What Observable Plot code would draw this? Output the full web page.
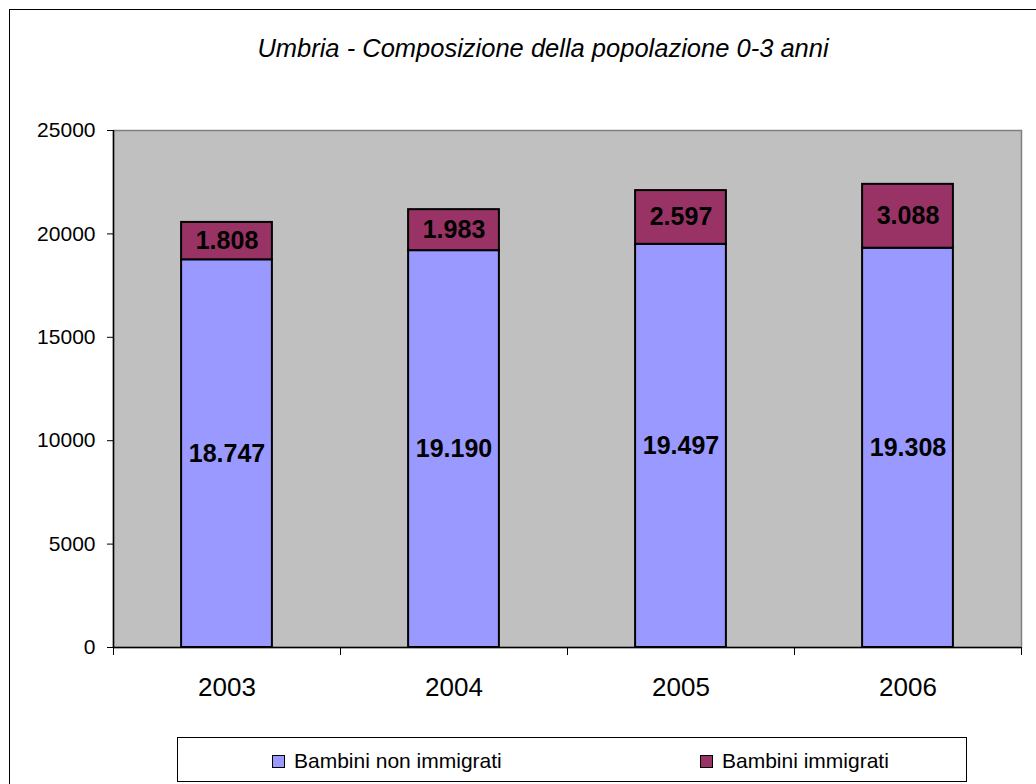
<!DOCTYPE html>
<html>
<head>
<meta charset="utf-8">
<script src="https://cdn.jsdelivr.net/npm/d3@7"></script>
<script src="https://cdn.jsdelivr.net/npm/@observablehq/plot@0.6"></script>
<style>
  html, body { margin: 0; padding: 0; background: #fff; }
  #wrap { position: relative; width: 1036px; height: 784px; overflow: hidden; font-family: Arial, "Liberation Sans", sans-serif; }
  #border { position: absolute; left: 9px; top: 9px; width: 1040px; height: 800px; border: 1px solid #000; box-sizing: border-box; }
  #chart { position: absolute; left: 0; top: 0; }
  #title { position: absolute; left: 0; top: 34px; width: 1086px; text-align: center; font-style: italic; font-size: 25.5px; color: #000; }
  #legend { position: absolute; left: 177px; top: 737px; width: 790px; height: 45px; border: 1px solid #000; box-sizing: border-box; background: #fff; }
  .item { position: absolute; top: 11px; font-size: 21px; line-height: 24px; white-space: nowrap; }
  .sw { display: inline-block; width: 11px; height: 11px; border: 1px solid #000; margin-right: 9px; vertical-align: 0px; }
</style>
</head>
<body>
<div id="wrap">
  <div id="border"></div>
  <div id="chart"></div>
  <div id="title"></div>
  <div id="legend"></div>
</div>
<script>
const titleText = "Umbria - Composizione della popolazione 0-3 anni";
const years = [2003, 2004, 2005, 2006];
const seriesNames = ["Bambini non immigrati", "Bambini immigrati"];
const nonImmigrati = [18747, 19190, 19497, 19308];
const immigrati = [1808, 1983, 2597, 3088];
const yTicks = [0, 5000, 10000, 15000, 20000, 25000];
const colors = ["#9999FF", "#993366"];

const fmt = d3.formatLocale({decimal: ",", thousands: ".", grouping: [3]}).format(",d");

const seriesValues = [nonImmigrati, immigrati];
const rows = [];
years.forEach((yr, i) => {
  let base = 0;
  seriesValues.forEach((vals, s) => {
    rows.push({year: yr, series: seriesNames[s], value: vals[i], y1: base, y2: base + vals[i]});
    base += vals[i];
  });
});

const halfBar = 0.2;
const bounds = [years[0] - 0.5, ...years.map(y => y + 0.5)];

const plot = Plot.plot({
  width: 1036,
  height: 784,
  marginLeft: 113,
  marginTop: 130,
  marginRight: 15,
  marginBottom: 137,
  style: {fontFamily: "Arial, 'Liberation Sans', sans-serif", background: "transparent"},
  x: {domain: [years[0] - 0.5, years[years.length - 1] + 0.5], axis: null},
  y: {domain: [0, 25000], axis: null},
  color: {domain: seriesNames, range: colors},
  marks: [
    Plot.frame({fill: "#C0C0C0", stroke: "#808080", strokeWidth: 1.5}),
    Plot.rect(rows, {x1: d => d.year - halfBar, x2: d => d.year + halfBar, y1: "y1", y2: "y2", fill: "series", stroke: "#000", strokeWidth: 2}),
    Plot.text(rows, {x: "year", y: d => (d.y1 + d.y2) / 2, text: d => fmt(d.value), fontSize: 25, fontWeight: "bold", fill: "#000"}),
    Plot.ruleY([0], {stroke: "#000", strokeWidth: 1.5}),
    Plot.ruleX([bounds[0]], {stroke: "#000", strokeWidth: 1.5}),
    Plot.axisY({ticks: yTicks, tickFormat: d => String(d), tickSize: 6, tickPadding: 12, fontSize: 21, stroke: "#000", color: "#000", anchor: "left", label: null}),
    Plot.axisX({ticks: bounds, tickFormat: () => "", tickSize: 8, stroke: "#000", anchor: "bottom", label: null}),
    Plot.axisX({ticks: years, tickFormat: d => String(d), tickSize: 0, tickPadding: 30, fontSize: 26, color: "#000", anchor: "bottom", label: null})
  ]
});
document.getElementById("chart").appendChild(plot);
document.getElementById("title").textContent = titleText;

const legend = document.getElementById("legend");
const positions = [94, 522];
seriesNames.forEach((name, i) => {
  const it = document.createElement("div");
  it.className = "item";
  it.style.left = positions[i] + "px";
  const sw = document.createElement("span");
  sw.className = "sw";
  sw.style.background = colors[i];
  it.appendChild(sw);
  it.appendChild(document.createTextNode(name));
  legend.appendChild(it);
});
</script>
</body>
</html>
